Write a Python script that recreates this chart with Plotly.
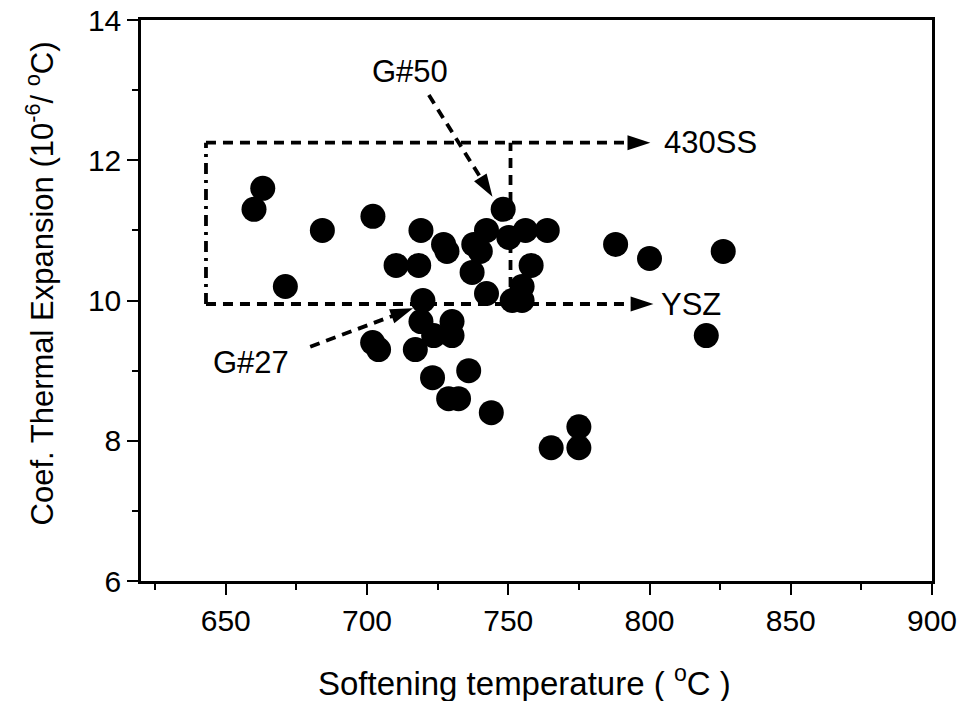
import plotly.graph_objects as go

# Data
softening_temp = [663.1, 660.0, 684.2, 671.1, 702.1, 719.1, 710.3, 718.3, 727.1, 728.3,
                  737.2, 742.3, 740.1, 737.8, 748.2, 750.2, 756.1, 763.8, 758.1, 754.9,
                  751.4, 754.9, 742.3, 719.8, 719.1, 730.1, 723.6, 730.1, 702.0, 704.1,
                  717.1, 723.2, 736.0, 728.9, 732.4, 744.0, 775.0, 765.2, 775.0, 788.0,
                  800.0, 826.1, 820.1]
cte = [11.6, 11.3, 11.0, 10.2, 11.2, 11.0, 10.5, 10.5, 10.8, 10.7,
       10.4, 11.0, 10.7, 10.8, 11.3, 10.9, 11.0, 11.0, 10.5, 10.2,
       10.0, 10.0, 10.1, 10.0, 9.7, 9.7, 9.5, 9.5, 9.4, 9.3,
       9.3, 8.9, 9.0, 8.6, 8.6, 8.4, 8.2, 7.9, 7.9, 10.8,
       10.6, 10.7, 9.5]

# Reference window (430SS top, YSZ bottom)
box_x = [643, 750.8]
ss430_y = 12.25
ysz_y = 9.95
ss430_end_x = 800.3
ysz_end_x = 801.4
label_430ss = "430SS"
label_ysz = "YSZ"

# Pointer annotations: (label, label_x, label_y, tail_x, tail_y, head_x, head_y)
g50 = ("G#50", 715.3, 13.26, 721.9, 12.93, 744.4, 11.48)
g27 = ("G#27", 673.0, 9.12, 679.9, 9.34, 716.3, 9.89)

x_ticks = [650, 700, 750, 800, 850, 900]
y_ticks = [6, 8, 10, 12, 14]
x_title = "Softening temperature ( <sup>o</sup>C )"
y_title = "Coef. Thermal Expansion (10<sup>-6</sup>/ <sup>o</sup>C)"

FONT = "Liberation Sans, Arial, sans-serif"
DASH = "10px,7px"
LW = 3.8
HEAD = 24

fig = go.Figure()

def dashed(xs, ys, dash=DASH):
    fig.add_trace(go.Scatter(x=xs, y=ys, mode="lines",
                             line=dict(color="black", width=LW, dash=dash), hoverinfo="skip"))

def head(x0, y0, x1, y1):
    fig.add_trace(go.Scatter(x=[x0, x1], y=[y0, y1], mode="markers",
                             marker=dict(symbol="arrow", size=[0, HEAD], color="black",
                                         opacity=1, angleref="previous", line=dict(width=0)),
                             hoverinfo="skip"))

# Dashed reference lines with arrows
dashed([box_x[0], ss430_end_x - 5], [ss430_y, ss430_y])
head(ss430_end_x - 10, ss430_y, ss430_end_x, ss430_y)
dashed([box_x[0], ysz_end_x - 5], [ysz_y, ysz_y])
head(ysz_end_x - 10, ysz_y, ysz_end_x, ysz_y)
dashed([box_x[0], box_x[0]], [ysz_y, ss430_y], dash="11px,6px,3px,6px")
dashed([box_x[1], box_x[1]], [ysz_y, ss430_y])

# Pointer lines
for p in (g50, g27):
    f = 0.85
    dashed([p[3], p[3] + (p[5] - p[3]) * f], [p[4], p[4] + (p[6] - p[4]) * f])
    head(p[3], p[4], p[5], p[6])

# Data points
fig.add_trace(go.Scatter(x=softening_temp, y=cte, mode="markers",
                         marker=dict(color="black", size=25, opacity=1, line=dict(width=0)),
                         hoverinfo="x+y"))

tf = dict(family=FONT, size=31, color="black")
annotations = [
    dict(x=ss430_end_x + 4, y=ss430_y, xref="x", yref="y", text=label_430ss,
         showarrow=False, xanchor="left", font=tf),
    dict(x=ysz_end_x + 2, y=ysz_y, xref="x", yref="y", text=label_ysz,
         showarrow=False, xanchor="left", font=tf),
    dict(x=g50[1], y=g50[2], xref="x", yref="y", text=g50[0], showarrow=False, font=tf),
    dict(x=g27[1], y=g27[2], xref="x", yref="y", text=g27[0], showarrow=False,
         xanchor="right", font=tf),
    dict(x=0.485, y=-0.178, xref="paper", yref="paper", text=x_title, showarrow=False,
         xanchor="center", yanchor="middle", font=dict(family=FONT, size=33, color="black")),
    dict(x=-0.128, y=0.53, xref="paper", yref="paper", text=y_title, showarrow=False,
         textangle=-90, xanchor="center", yanchor="middle",
         font=dict(family=FONT, size=31, color="black")),
]

axis_common = dict(ticks="outside", ticklen=11, tickwidth=2, tickcolor="black",
                   showline=True, linecolor="black", linewidth=2.5, mirror=True,
                   showgrid=False, zeroline=False, automargin=False,
                   tickfont=dict(family=FONT, size=30, color="black"))

fig.update_layout(
    width=962, height=701,
    margin=dict(l=141, r=30, t=20, b=120),
    paper_bgcolor="white", plot_bgcolor="white",
    showlegend=False,
    font=dict(family=FONT, size=30, color="black"),
    annotations=annotations,
    xaxis=dict(range=[620, 900], tickvals=x_ticks, ticktext=[str(v) for v in x_ticks],
               minor=dict(tickvals=[625, 675, 725, 775, 825, 875], ticks="outside", ticklen=6,
                          tickwidth=2, tickcolor="black"),
               **axis_common),
    yaxis=dict(range=[6, 14], tickvals=y_ticks, ticktext=[str(v) for v in y_ticks],
               minor=dict(tickvals=[7, 9, 11, 13], ticks="outside", ticklen=6,
                          tickwidth=2, tickcolor="black"),
               **axis_common),
)

fig.write_html("out.html", config={"displayModeBar": False},
               post_script="document.body.style.margin='0';")
